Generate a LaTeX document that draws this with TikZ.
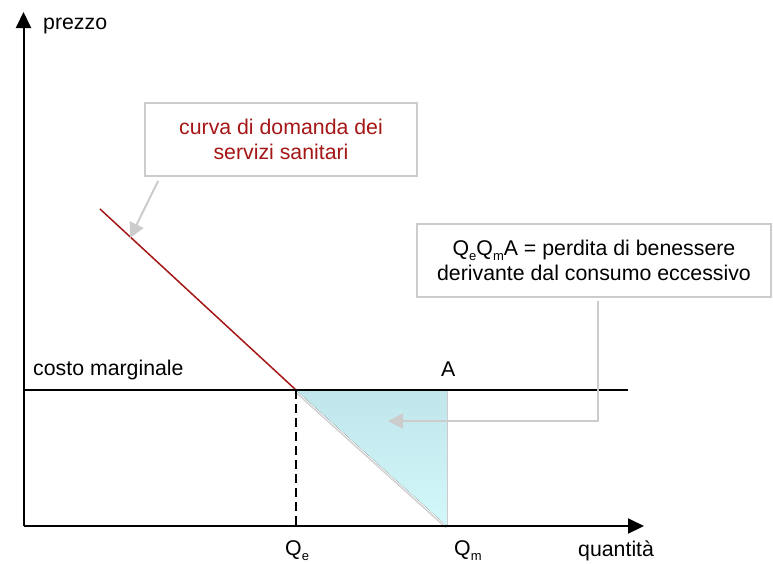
\documentclass[tikz,border=0pt]{standalone}
\usepackage{fontspec}
\setmainfont{Liberation Sans}
\usetikzlibrary{arrows.meta,calc}
\newcommand{\mysub}[1]{\raisebox{-0.25em}{\fontsize{13}{13}\selectfont #1}}
\definecolor{dred}{RGB}{165,22,22}
\definecolor{lgray}{RGB}{204,204,204}
\definecolor{tritop}{RGB}{192,230,236}
\definecolor{tribot}{RGB}{210,248,250}
\tikzset{
  axis/.style={line width=2pt,-{Triangle[length=16pt,width=15pt]}},
  box/.style={draw=lgray,line width=1.5pt,fill=white,align=center,inner sep=0pt},
  conn/.style={draw=lgray,line width=2pt,-{Triangle[length=15pt,width=15pt]}},
  lbl/.style={anchor=base west,inner sep=0pt}
}
\begin{document}
\begin{tikzpicture}[x=1pt,y=-1pt,font=\fontsize{21.3}{25}\selectfont]
\useasboundingbox (0,0) rectangle (773,563);
\coordinate (O) at (23.5,526);
\coordinate (Ytip) at (23.5,12);
\coordinate (Xtip) at (644,526);
\coordinate (MCl) at (23.5,390);
\coordinate (MCr) at (628,390);
\coordinate (E) at (296,390);
\coordinate (A) at (447,390);
\coordinate (Qm) at (447,526);
\coordinate (Qe) at (296,526);
\coordinate (D0) at (100,209);
% triangle
\fill[top color=tritop,bottom color=tribot] (E) -- (A) -- (Qm) -- cycle;
\draw[black!18,line width=1.5pt] ($(E)+(-0.8,1.8)$) -- ($(Qm)+(-0.8,1.8)$);
\draw[lgray,line width=1pt] (A) -- (Qm);
% dashed
\draw[line width=1.5pt,dash pattern=on 9pt off 5pt] (E) -- (Qe);
% demand
\draw[dred,line width=1.5pt] (D0) -- (E);
% marginal cost
\draw[line width=1.5pt] (MCl) -- (MCr);
% axes
\draw[axis] (O) -- (Ytip);
\draw[axis] (O) -- (Xtip);
% boxes
\node[box,minimum width=272pt,minimum height=73pt,text=dred] (b1) at (281,139.5) {curva di domanda dei\\servizi sanitari};
\node[box,minimum width=354pt,minimum height=73pt] (b2) at (594,260.5) {Q\mysub{e}Q\mysub{m}A = perdita di benessere\\derivante dal consumo eccessivo};
% connectors
\coordinate (c1s) at ($(b1.south west)+(14,4)$);
\coordinate (c1t) at (130,238);
\draw[conn] (c1s) -- (c1t);
\coordinate (c2s) at ($(b2.south)+(4,3)$);
\coordinate (c2t) at (388,421);
\draw[conn] (c2s) |- (c2t);
% labels
\node[lbl] (lp) at (43,29) {prezzo};
\node[lbl] (lcm) at (33,375) {costo marginale};
\node[lbl] (la) at (441,376) {A};
\node[lbl] (lqe) at (285,555) {Q\mysub{e}};
\node[lbl] (lqm) at (454,555) {Q\mysub{m}};
\node[lbl] (lq) at (578,556) {quantità};
\end{tikzpicture}
\end{document}
